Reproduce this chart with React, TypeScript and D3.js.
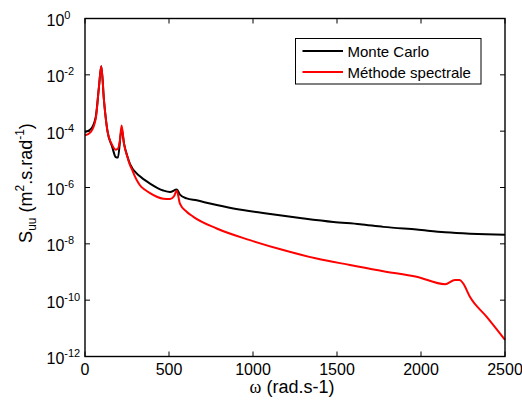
import * as d3 from "d3";

// pulsation (rad/s) and spectral density values
const mcOmega = [0, 34, 64, 83, 97, 113, 133, 162, 183, 196, 218, 232, 252, 268, 327, 387, 466, 506, 546, 565, 605, 665, 744, 883, 1081, 1280, 1478, 1637, 1776, 1974, 2143, 2500];
const mcS = [9.3e-5, 1.17e-4, 3.2e-4, 3.7e-3, 2.0e-2, 1.23e-3, 1.07e-4, 2.75e-5, 1.2e-5, 1.15e-5, 1.23e-4, 3.7e-5, 1.29e-5, 6.8e-6, 2.5e-6, 1.38e-6, 7.8e-7, 6.9e-7, 8.5e-7, 5.6e-7, 4.1e-7, 3.5e-7, 2.7e-7, 1.8e-7, 1.2e-7, 8.3e-8, 6.0e-8, 5.0e-8, 4.0e-8, 3.2e-8, 2.6e-8, 2.1e-8];

const spOmega = [0, 34, 64, 83, 97, 113, 133, 162, 183, 196, 208, 218, 232, 252, 268, 282, 297, 312, 327, 357, 387, 427, 466, 506, 530, 546, 565, 605, 645, 784, 982, 1180, 1379, 1577, 1776, 1974, 2143, 2202, 2230, 2250, 2291, 2390, 2500];
const spS = [7.1e-5, 9.3e-5, 2.8e-4, 3.7e-3, 2.0e-2, 1.23e-3, 1.07e-4, 3.2e-5, 2.2e-5, 2.4e-5, 4.8e-5, 1.6e-4, 3.6e-5, 1.23e-5, 6.2e-6, 4.1e-6, 2.5e-6, 1.66e-6, 1.2e-6, 8.3e-7, 6.3e-7, 4.7e-7, 4.0e-7, 3.9e-7, 4.9e-7, 7.8e-7, 2.7e-7, 1.38e-7, 9.1e-8, 3.5e-8, 1.35e-8, 6.0e-9, 3.0e-9, 1.78e-9, 1.07e-9, 6.8e-10, 3.7e-10, 5.2e-10, 5.2e-10, 4.0e-10, 1.32e-10, 2.6e-11, 3.9e-12];

const xTicks = [0, 500, 1000, 1500, 2000, 2500];
const yTickExps = [0, -2, -4, -6, -8, -10, -12];
const legendLabels = ["Monte Carlo", "Méthode spectrale"];
const colors = ["#000000", "#ff0000"];

const font = "'Liberation Sans', Arial, sans-serif";

const App = () => {
    const width = 522, height = 403;
    const left = 85, right = 505, top = 18.5, bottom = 356.5;

    const x = d3.scaleLinear().domain([0, 2500]).range([left, right]);
    const y = d3.scaleLog().domain([1e-12, 1]).range([bottom, top]);

    const line = d3.line<[number, number]>()
        .x((d) => x(d[0]))
        .y((d) => y(d[1]))
        .curve(d3.curveMonotoneX);

    const mc = mcOmega.map((w, i) => [w, mcS[i]] as [number, number]);
    const sp = spOmega.map((w, i) => [w, spS[i]] as [number, number]);

    const tl = 5;

    return (
        <svg width={width} height={height}
            style={{ position: "absolute", left: 0, top: 0, background: "#fff" }}
            fontFamily={font}>
            <rect x={0} y={0} width={width} height={height} fill="#fff" />

            <path d={line(mc)!} fill="none" stroke={colors[0]} strokeWidth={2} />
            <path d={line(sp)!} fill="none" stroke={colors[1]} strokeWidth={2} />

            {/* frame */}
            <rect x={left} y={top} width={right - left} height={bottom - top}
                fill="none" stroke="#000" strokeWidth={1.4} />

            {xTicks.map((t) => (
                <g key={"x" + t}>
                    <line x1={x(t)} x2={x(t)} y1={bottom} y2={bottom - tl} stroke="#000" />
                    <line x1={x(t)} x2={x(t)} y1={top} y2={top + tl} stroke="#000" />
                    <text x={x(t)} y={375} fontSize={16} textAnchor="middle">{t}</text>
                </g>
            ))}

            {yTickExps.map((e) => {
                const yy = y(Math.pow(10, e));
                return (
                    <g key={"y" + e}>
                        <line x1={left} x2={left + tl} y1={yy} y2={yy} stroke="#000" />
                        <line x1={right} x2={right - tl} y1={yy} y2={yy} stroke="#000" />
                        <text x={46.5} y={yy + 7.5} fontSize={16}>
                            10<tspan fontSize={11} dy={-7}>{e}</tspan>
                        </text>
                    </g>
                );
            })}

            {/* axis titles */}
            <text x={292} y={393} fontSize={18} textAnchor="middle">
                <tspan fontFamily="'Liberation Serif', serif">ω</tspan> (rad.s-1)
            </text>
            <text transform="translate(31.5,183) rotate(-90)" fontSize={18} textAnchor="middle">
                S<tspan fontSize={12} dy={4}>uu</tspan>
                <tspan dy={-4}> (m</tspan>
                <tspan fontSize={12} dy={-8}>2</tspan>
                <tspan dy={8}>.s.rad</tspan>
                <tspan fontSize={12} dy={-8}>-1</tspan>
                <tspan dy={8}>)</tspan>
            </text>

            {/* legend */}
            <rect x={295.5} y={38.5} width={185.5} height={45.5} fill="#fff" stroke="#000" strokeWidth={1} />
            {legendLabels.map((lab, i) => (
                <g key={lab}>
                    <line x1={302.5} x2={343} y1={51 + i * 21} y2={51 + i * 21}
                        stroke={colors[i]} strokeWidth={2} />
                    <text x={347.5} y={56.5 + i * 21} fontSize={15}>{lab}</text>
                </g>
            ))}
        </svg>
    );
};

export default App;
